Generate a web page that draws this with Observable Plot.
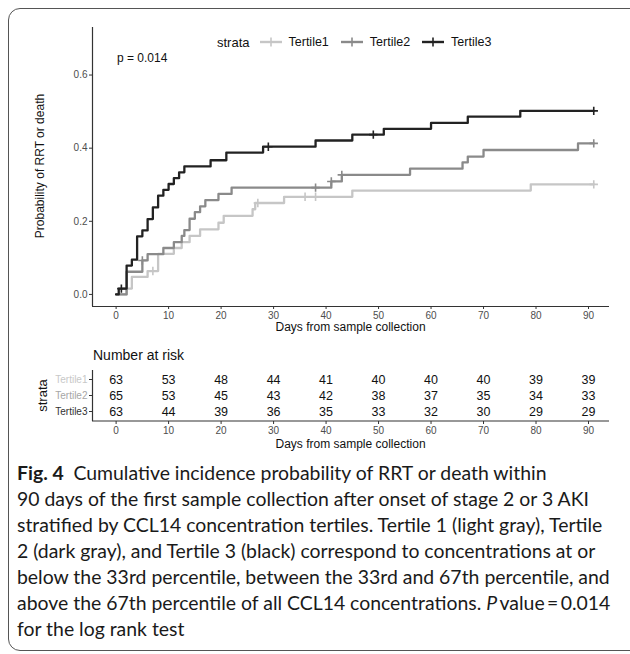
<!DOCTYPE html>
<html><head><meta charset="utf-8">
<script src="https://cdn.jsdelivr.net/npm/d3@7"></script>
<script src="https://cdn.jsdelivr.net/npm/@observablehq/plot@0.6"></script>
<style>
html,body{margin:0;padding:0;background:#fff;overflow:hidden;}
#wrap{position:relative;width:630px;height:654px;overflow:hidden;font-family:"Liberation Sans",Arial,sans-serif;color:#111;}
#frame{position:absolute;left:8px;top:8px;width:640px;height:643px;border:1.5px solid #555;border-radius:12px;box-sizing:border-box;}
.abs{position:absolute;white-space:nowrap;}
#caption{position:absolute;left:17px;top:460px;font-family:Lato,"Open Sans",sans-serif;font-size:17px;line-height:26px;color:#1a1a1a;white-space:nowrap;}
#caption span.l{display:inline-block;}
</style></head><body><div id="wrap"><div id="frame"></div></div>
<script>
// ---------- data ----------
const strata = ["Tertile1", "Tertile2", "Tertile3"];
const colors = ["#c6c6c6", "#8a8a8a", "#222222"];
const labelColors = ["#c8c8c8", "#a6a6a6", "#333333"];

const t1Time = [0, 2, 3, 6, 8, 11, 12.5, 14, 16, 19.5, 20.5, 26, 26.5, 32, 45, 79, 91];
const t1Prob = [0, 0.016, 0.048, 0.064, 0.111, 0.127, 0.143, 0.160, 0.178, 0.196, 0.215, 0.233, 0.250, 0.267, 0.284, 0.301, 0.301];
const t2Time = [0, 2, 5, 6, 9, 11, 12.5, 13, 14, 15, 16, 17, 19.5, 22, 41, 43, 56, 66, 67, 70, 88, 91];
const t2Prob = [0, 0.062, 0.093, 0.110, 0.127, 0.143, 0.160, 0.176, 0.207, 0.225, 0.241, 0.258, 0.275, 0.292, 0.309, 0.327, 0.344, 0.361, 0.377, 0.395, 0.413, 0.413];
const t3Time = [0, 0.5, 2, 3, 4, 5, 6, 7, 8, 9, 10, 11, 12, 13, 18, 21, 28, 38, 45, 51, 60, 67, 77, 91];
const t3Prob = [0, 0.016, 0.079, 0.095, 0.159, 0.175, 0.206, 0.238, 0.270, 0.286, 0.302, 0.318, 0.334, 0.350, 0.367, 0.388, 0.404, 0.421, 0.437, 0.453, 0.469, 0.486, 0.502, 0.502];

const c1Time = [7, 27, 36, 38, 91];
const c1Prob = [0.064, 0.250, 0.267, 0.267, 0.301];
const c2Time = [5, 38, 41, 43, 91];
const c2Prob = [0.093, 0.292, 0.309, 0.327, 0.413];
const c3Time = [1, 29, 49, 91];
const c3Prob = [0.016, 0.404, 0.437, 0.502];

const riskTimes = [0, 10, 20, 30, 40, 50, 60, 70, 80, 90];
const risk1 = [63, 53, 48, 44, 41, 40, 40, 40, 39, 39];
const risk2 = [65, 53, 45, 43, 42, 38, 37, 35, 34, 33];
const risk3 = [63, 44, 39, 36, 35, 33, 32, 30, 29, 29];

const xTicks = [0, 10, 20, 30, 40, 50, 60, 70, 80, 90];
const yTicks = [0, 0.2, 0.4, 0.6];
const xDomain = [-4.5, 94];
const yDomain = [-0.033, 0.73];

const pText = "p = 0.014";
const yTitle = "Probability of RRT or death";
const xTitle = "Days from sample collection";
const riskTitle = "Number at risk";
const legendTitle = "strata";
const captionBold = "Fig. 4";
const captionLines = [
  "Cumulative incidence probability of RRT or death within",
  "90 days of the first sample collection after onset of stage 2 or 3 AKI",
  "stratified by CCL14 concentration tertiles. Tertile 1 (light gray), Tertile",
  "2 (dark gray), and Tertile 3 (black) correspond to concentrations at or",
  "below the 33rd percentile, between the 33rd and 67th percentile, and",
  "above the 67th percentile of all CCL14 concentrations. <i>P</i>\u2009value\u2009=\u20090.014",
  "for the log rank test"
];

// ---------- tables ----------
const curveT = [t1Time, t2Time, t3Time], curveP = [t1Prob, t2Prob, t3Prob];
const censT = [c1Time, c2Time, c3Time], censP = [c1Prob, c2Prob, c3Prob];
const riskN = [risk1, risk2, risk3];
const curves = strata.flatMap((s, i) => curveT[i].map((t, j) => ({strata: s, time: t, prob: curveP[i][j]})));
const cens = strata.flatMap((s, i) => censT[i].map((t, j) => ({strata: s, time: t, prob: censP[i][j]})));
const riskRows = strata.flatMap((s, i) => riskTimes.map((t, j) => ({strata: s, time: t, n: riskN[i][j]})));

const plusSymbol = {draw(ctx, size) { const r = Math.sqrt(size / Math.PI); ctx.moveTo(0, -r); ctx.lineTo(0, r); ctx.moveTo(-r, 0); ctx.lineTo(r, 0); }};

const wrap = document.getElementById("wrap");
const font = '"Liberation Sans", Arial, sans-serif';

// ---------- main plot ----------
const main = Plot.plot({
  width: 630, height: 340,
  marginLeft: 92, marginRight: 21, marginTop: 27, marginBottom: 34,
  x: {domain: xDomain},
  y: {domain: yDomain},
  color: {domain: strata, range: colors},
  style: {fontFamily: font, fontSize: "10px", color: "#4d4d4d", background: "transparent", overflow: "visible"},
  marks: [
    Plot.axisX({ticks: xTicks, tickSize: 3, tickPadding: 2, label: null, stroke: "#333", fill: "#4d4d4d"}),
    Plot.axisY({ticks: yTicks, tickSize: 3, tickPadding: 2, label: null, tickFormat: d3.format(".1f"), stroke: "#333", fill: "#4d4d4d"}),
    Plot.ruleX([xDomain[0]], {stroke: "#333", strokeWidth: 1.2}),
    Plot.ruleY([yDomain[0]], {stroke: "#333", strokeWidth: 1.2}),
    Plot.line(curves, {x: "time", y: "prob", z: "strata", stroke: "strata", curve: "step-after", strokeWidth: 2.3}),
    Plot.dot(cens, {x: "time", y: "prob", stroke: "strata", fill: "none", symbol: plusSymbol, r: 4.2, strokeWidth: 1.6})
  ]
});
main.style.position = "absolute"; main.style.left = "0px"; main.style.top = "0px";
wrap.appendChild(main);

// ---------- risk table ----------
const risk = Plot.plot({
  width: 630, height: 120,
  marginLeft: 92, marginRight: 21, marginTop: 30, marginBottom: 39,
  x: {domain: xDomain},
  y: {type: "point", domain: strata, range: [39, 71], padding: 0},
  color: {domain: strata, range: labelColors},
  style: {fontFamily: font, fontSize: "10px", color: "#4d4d4d", background: "transparent", overflow: "visible"},
  marks: [
    Plot.axisX({ticks: xTicks, tickSize: 3, tickPadding: 2, label: null, stroke: "#333", fill: "#4d4d4d"}),
    Plot.axisY({tickSize: 3, tickPadding: 2, label: null, stroke: "#333", fill: d => d, fontSize: 10}),
    Plot.ruleX([xDomain[0]], {stroke: "#333", strokeWidth: 1.2}),
    Plot.text(riskRows, {x: "time", y: "strata", text: "n", fontSize: 12.5, fill: "#111"})
  ]
});
risk.style.position = "absolute"; risk.style.left = "0px"; risk.style.top = "340px";
wrap.appendChild(risk);
// bottom axis line of the risk table, placed with the table's own x scale
const rx = risk.scale("x");
const bottomLine = document.createElementNS("http://www.w3.org/2000/svg", "line");
bottomLine.setAttribute("x1", rx.apply(xDomain[0])); bottomLine.setAttribute("x2", rx.apply(xDomain[1]));
bottomLine.setAttribute("y1", 81); bottomLine.setAttribute("y2", 81);
bottomLine.setAttribute("stroke", "#333"); bottomLine.setAttribute("stroke-width", 1.2);
risk.appendChild(bottomLine);

// ---------- texts ----------
function addText(txt, x, y, opts = {}) {
  const d = document.createElement("div");
  d.className = "abs";
  d.textContent = txt;
  d.style.fontSize = (opts.size || 12) + "px";
  d.style.fontFamily = opts.family || font;
  d.style.color = opts.color || "#111";
  d.style.lineHeight = "1";
  wrap.appendChild(d);
  const w = d.offsetWidth, h = d.offsetHeight;
  let left = x, top = y - h / 2;
  if (opts.anchor === "middle") left = x - w / 2;
  if (opts.rotate) {
    left = x - w / 2; top = y - h / 2;
    d.style.transform = "rotate(-90deg)";
  }
  d.style.left = left + "px"; d.style.top = top + "px";
  return d;
}
addText(pText, 117, 58, {size: 12});
addText(yTitle, 40, 166, {size: 12, rotate: true});
addText(xTitle, 350.5, 327, {size: 12, anchor: "middle"});
addText(riskTitle, 93, 355, {size: 14});
addText(legendTitle, 42, 395, {size: 13, rotate: true});
addText(xTitle, 350.5, 444, {size: 12, anchor: "middle"});

// legend
const leg = document.createElement("div");
leg.className = "abs";
leg.style.left = "217px"; leg.style.top = "34px"; leg.style.height = "16px";
leg.style.display = "flex"; leg.style.alignItems = "center"; leg.style.fontFamily = font;
const lt = document.createElement("span"); lt.textContent = legendTitle; lt.style.fontSize = "13px"; lt.style.marginRight = "10px";
leg.appendChild(lt);
strata.forEach((s, i) => {
  const svg = d3.create("svg").attr("width", 22).attr("height", 12).style("margin-right", "7px");
  svg.append("line").attr("x1", 0).attr("x2", 22).attr("y1", 6).attr("y2", 6).attr("stroke", colors[i]).attr("stroke-width", 2.4);
  svg.append("line").attr("x1", 11).attr("x2", 11).attr("y1", 1.5).attr("y2", 10.5).attr("stroke", colors[i]).attr("stroke-width", 1.6);
  leg.appendChild(svg.node());
  const t = document.createElement("span"); t.textContent = s; t.style.fontSize = "12.5px"; t.style.marginRight = "12px";
  leg.appendChild(t);
});
wrap.appendChild(leg);

// caption
const cap = document.createElement("div");
cap.id = "caption";
cap.innerHTML = captionLines.map((l, i) => `<span class="l">${i === 0 ? `<b>${captionBold}</b>\u2002` : ""}${l}</span>`).join("<br>");
wrap.appendChild(cap);
const spans = [...cap.querySelectorAll("span.l")];
const maxW = Math.max(...spans.map(s => s.getBoundingClientRect().width));
const target = 594;
cap.style.fontSize = (17 * target / maxW) + "px";
</script></body></html>
